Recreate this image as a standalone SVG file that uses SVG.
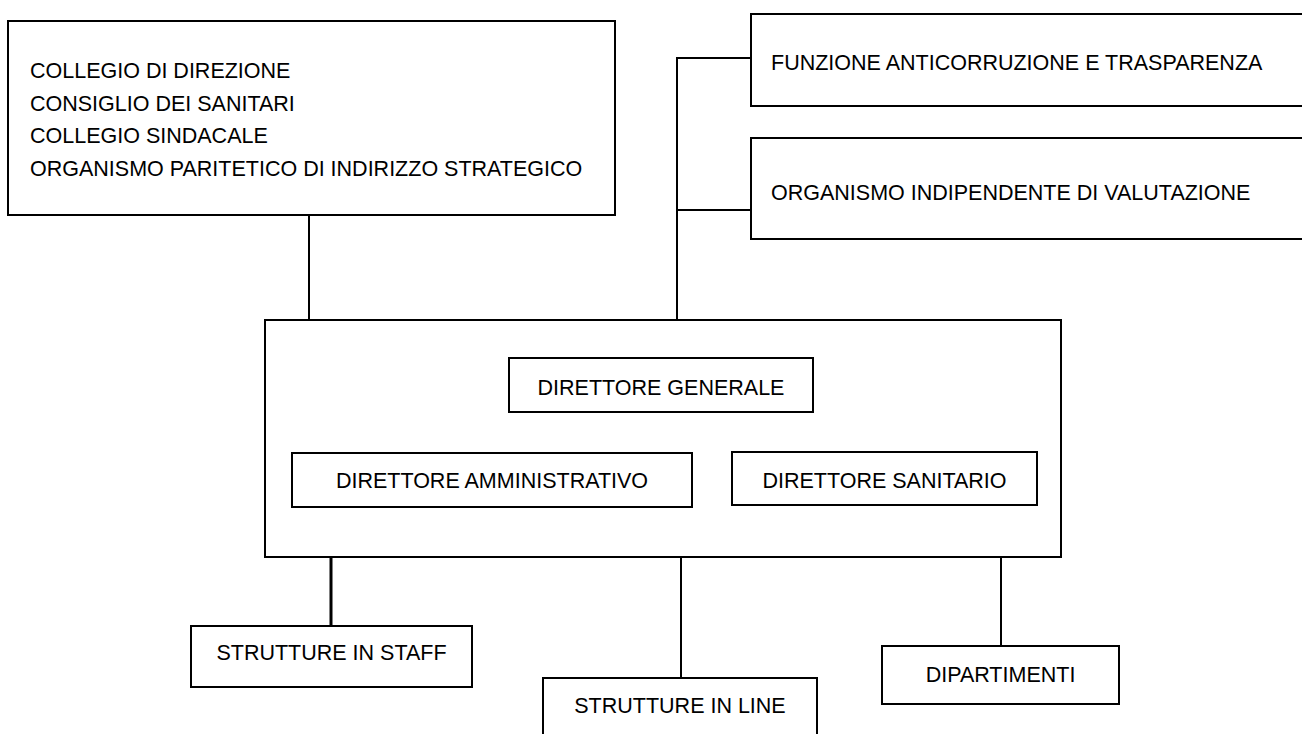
<svg xmlns="http://www.w3.org/2000/svg" width="1302" height="734" viewBox="0 0 1302 734">
<style>
.box{fill:#fff;stroke:#000;stroke-width:2}
.t{font-family:"Liberation Sans",Arial,sans-serif;font-size:21.5px;fill:#000}
.m{text-anchor:middle}
.c{stroke:#000;stroke-width:2;fill:none}
</style>
<rect width="1302" height="734" fill="#fff"/>
<g id="connectors">
<line class="c" x1="309" y1="215" x2="309" y2="320"/>
<polyline class="c" points="677,320 677,58 751,58"/>
<line class="c" x1="677" y1="210" x2="751" y2="210"/>
<line class="c" x1="331" y1="557" x2="331" y2="626" style="stroke-width:3"/>
<line class="c" x1="681" y1="557" x2="681" y2="678"/>
<line class="c" x1="1001" y1="557" x2="1001" y2="646"/>
</g>
<g id="organi">
<rect class="box" x="8" y="21" width="607" height="194"/>
<text class="t" x="30" y="78">COLLEGIO DI DIREZIONE</text>
<text class="t" x="30" y="111">CONSIGLIO DEI SANITARI</text>
<text class="t" x="30" y="143">COLLEGIO SINDACALE</text>
<text class="t" x="30" y="176">ORGANISMO PARITETICO DI INDIRIZZO STRATEGICO</text>
</g>
<g id="anticorruzione">
<rect class="box" x="751" y="14" width="560" height="92"/>
<text class="t" x="771" y="70">FUNZIONE ANTICORRUZIONE E TRASPARENZA</text>
</g>
<g id="oiv">
<rect class="box" x="751" y="138" width="560" height="101"/>
<text class="t" x="771" y="200">ORGANISMO INDIPENDENTE DI VALUTAZIONE</text>
</g>
<g id="direzione">
<rect class="box" x="265" y="320" width="796" height="237"/>
</g>
<g id="dg">
<rect class="box" x="509" y="358" width="304" height="54"/>
<text class="t m" x="661" y="395">DIRETTORE GENERALE</text>
</g>
<g id="da">
<rect class="box" x="292" y="453" width="400" height="54"/>
<text class="t m" x="492" y="488">DIRETTORE AMMINISTRATIVO</text>
</g>
<g id="ds">
<rect class="box" x="732" y="452" width="305" height="53"/>
<text class="t m" x="884.5" y="488">DIRETTORE SANITARIO</text>
</g>
<g id="staff">
<rect class="box" x="191" y="626" width="281" height="61"/>
<text class="t m" x="331.5" y="660">STRUTTURE IN STAFF</text>
</g>
<g id="line">
<rect class="box" x="543" y="678" width="274" height="70"/>
<text class="t m" x="680" y="713">STRUTTURE IN LINE</text>
</g>
<g id="dipartimenti">
<rect class="box" x="882" y="646" width="237" height="58"/>
<text class="t m" x="1000.5" y="682">DIPARTIMENTI</text>
</g>
</svg>
